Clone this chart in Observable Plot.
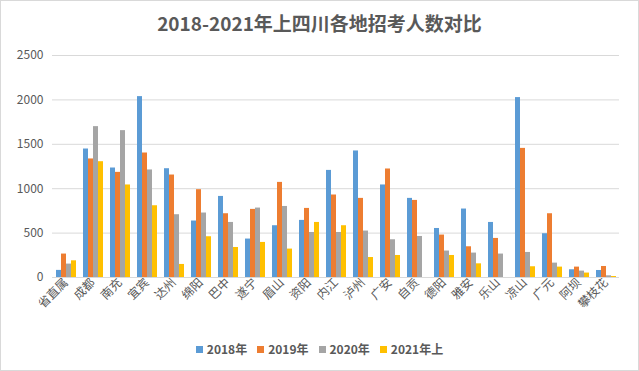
<!DOCTYPE html>
<html>
<head>
<meta charset="utf-8">
<script src="https://cdn.jsdelivr.net/npm/d3@7"></script>
<script src="https://cdn.jsdelivr.net/npm/@observablehq/plot@0.6"></script>
<style>
  html, body { margin: 0; padding: 0; background: #fff; }
  #wrap { position: relative; width: 639px; height: 371px; overflow: hidden; font-family: "Noto Sans CJK SC", "Noto Sans", sans-serif; }
  #border { position: absolute; left: 0; top: 0; width: 639px; height: 371px; box-sizing: border-box; border: 1px solid #d9d9d9; pointer-events: none; }
  #title { position: absolute; left: 0; top: 8px; width: 639px; text-align: center; font-size: 19px; font-weight: bold; color: #595959; line-height: 30px; }
  #chart { position: absolute; left: 0; top: 38px; }
  #legend { position: absolute; left: 0; top: 340px; width: 639px; display: flex; justify-content: center; align-items: center; font-size: 12px; font-weight: bold; color: #595959; line-height: 18px; }
  .item { display: flex; align-items: center; margin: 0 5px; }
  .sw { width: 7px; height: 7px; margin-right: 4px; }
</style>
</head>
<body>
<div id="wrap">
  <div id="title">2018-2021年上四川各地招考人数对比</div>
  <div id="chart"></div>
  <div id="legend"></div>
  <div id="border"></div>
</div>
<script>
const cities = ["省直属","成都","南充","宜宾","达州","绵阳","巴中","遂宁","眉山","资阳","内江","泸州","广安","自贡","德阳","雅安","乐山","凉山","广元","阿坝","攀枝花"];
const years = ["2018年","2019年","2020年","2021年上"];
const v2018 = [80,1447,1233,2037,1225,636,913,433,583,643,1206,1425,1042,891,552,771,620,2026,493,87,79];
const v2019 = [264,1335,1184,1402,1154,989,718,767,1071,778,929,891,1222,868,478,346,440,1454,718,117,124];
const v2020 = [151,1699,1654,1211,707,726,620,782,800,507,507,523,425,462,298,275,264,282,162,72,19];
const v2021 = [188,1304,1042,808,147,459,338,395,320,620,583,225,248,0,248,154,0,121,117,50,11];
const colors = ["#5B9BD5","#ED7D31","#A5A5A5","#FFC000"];
const yTicks = [0,500,1000,1500,2000,2500];

const series = [v2018, v2019, v2020, v2021];
const data = [];
cities.forEach((c, i) => {
  years.forEach((y, j) => data.push({city: c, year: y, value: series[j][i]}));
});

const plot = Plot.plot({
  width: 639,
  height: 300,
  marginLeft: 47,
  marginRight: 16,
  marginTop: 17,
  marginBottom: 61,
  style: {fontFamily: '"Noto Sans CJK SC", "Noto Sans", sans-serif', color: "#595959", fontSize: "12px", background: "transparent"},
  fx: {domain: cities, padding: 0, label: null},
  x: {domain: years, axis: null, paddingInner: 0.1, paddingOuter: 0.75},
  y: {domain: [0, 2500], label: null},
  color: {domain: years, range: colors},
  marks: [
    Plot.gridY(yTicks, {stroke: "#d9d9d9", strokeOpacity: 1}),
    Plot.axisY(yTicks, {tickSize: 0, tickPadding: 9, fontSize: 12, label: null, tickFormat: d => String(d)}),
    Plot.axisFx({anchor: "bottom", tickRotate: -45, tickSize: 0, tickPadding: 3, fontSize: 12, label: null}),
    Plot.barY(data, {fx: "city", x: "year", y: "value", fill: "year"}),
    Plot.ruleY([0], {stroke: "#d9d9d9"})
  ]
});
document.getElementById("chart").appendChild(plot);

const legend = document.getElementById("legend");
years.forEach((y, i) => {
  const it = document.createElement("div");
  it.className = "item";
  const sw = document.createElement("div");
  sw.className = "sw";
  sw.style.background = colors[i];
  const t = document.createElement("span");
  t.textContent = y;
  it.appendChild(sw);
  it.appendChild(t);
  legend.appendChild(it);
});
</script>
</body>
</html>
